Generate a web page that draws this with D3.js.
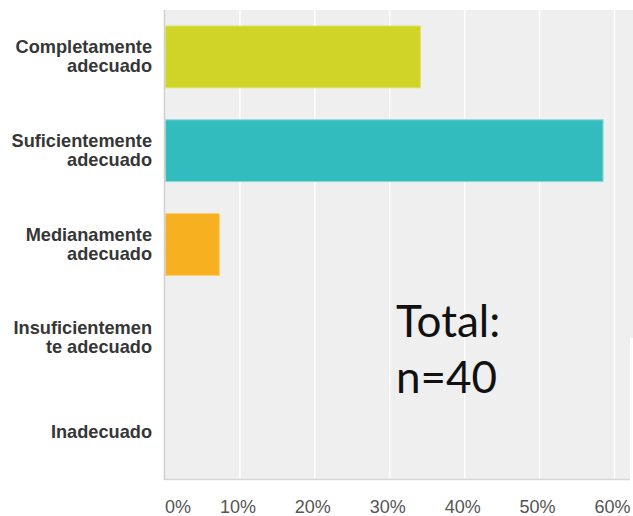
<!DOCTYPE html>
<html>
<head>
<meta charset="utf-8">
<script src="https://cdn.jsdelivr.net/npm/d3@7"></script>
<style>
body{margin:0;background:#fff}
svg{display:block}
.cat{font-family:"Liberation Sans",Arial,sans-serif;font-weight:bold;font-size:18.2px;fill:#363636}
.tick-lbl{font-family:"Liberation Sans",Arial,sans-serif;font-size:18px;fill:#555}
.total{font-family:Lato,"Open Sans",sans-serif;font-size:44px;fill:#111}
</style>
</head>
<body>
<div id="chart"></div>
<script>
// data
const categories=["Completamente adecuado","Suficientemente adecuado","Medianamente adecuado","Insuficientemente adecuado","Inadecuado"];
const labelLines=[["Completamente","adecuado"],["Suficientemente","adecuado"],["Medianamente","adecuado"],["Insuficientemen","te adecuado"],["Inadecuado"]];
const values=[34.15,58.54,7.32,0,0];
const barColors=["#d0d427","#33bcbe","#f6b020","#999","#999"];
const barStrokes=["#dde26a","#8fd8d8","#fbcf78","#ccc","#ccc"];
const xTicks=[0,10,20,30,40,50,60];
const totalLines=["Total:","n=40"];

const W=633,H=516;
const pL=165,pT=10,pR=633,pB=479;

const svg=d3.select("#chart").append("svg").attr("width",W).attr("height",H);

const x=d3.scaleLinear().domain([0,60]).range([pL,614.5]);
const y=d3.scaleBand().domain(categories).range([pT,pB]).paddingInner(0.33).paddingOuter(0.165);

// plot background
svg.append("rect").attr("x",pL).attr("y",pT).attr("width",pR-pL).attr("height",pB-pT).attr("fill","#efefef");

// grid
svg.append("g").selectAll("line").data(xTicks.slice(1)).enter().append("line")
  .attr("x1",d=>x(d)).attr("x2",d=>x(d)).attr("y1",pT).attr("y2",pB)
  .attr("stroke","#fff").attr("stroke-width",1.5);

// bars
svg.append("g").selectAll("rect").data(values).enter().append("rect")
  .attr("x",pL+0.5)
  .attr("y",(d,i)=>y(categories[i])+0.5)
  .attr("width",d=>Math.max(0,x(d)-pL-1))
  .attr("height",y.bandwidth()-1)
  .attr("fill",(d,i)=>barColors[i])
  .attr("stroke",(d,i)=>barStrokes[i])
  .attr("stroke-width",1)
  .attr("display",d=>d>0?null:"none");

// axis lines
svg.append("line").attr("x1",pL-0.5).attr("x2",pL-0.5).attr("y1",pT).attr("y2",pB+1)
  .attr("stroke","#cfcfcf").attr("stroke-width",1.5);
svg.append("line").attr("x1",pL).attr("x2",630).attr("y1",pB+0.5).attr("y2",pB+0.5)
  .attr("stroke","#d6d6d6").attr("stroke-width",1.5);

// small cut at right edge of the reference
svg.append("rect").attr("x",630).attr("y",338).attr("width",3).attr("height",pB-338+2).attr("fill","#fff");

// category labels
const lab=svg.append("g").selectAll("text").data(labelLines).enter().append("text")
  .attr("class","cat").attr("text-anchor","end");
lab.each(function(lines,i){
  const cy=y(categories[i])+y.bandwidth()/2;
  const lh=19;
  const y0=cy+5.5-(lines.length-1)*lh/2;
  d3.select(this).selectAll("tspan").data(lines).enter().append("tspan")
    .attr("x",152).attr("y",(d,k)=>y0+k*lh).text(d=>d);
});

// x tick labels
svg.append("g").selectAll("text").data(xTicks).enter().append("text")
  .attr("class","tick-lbl")
  .attr("x",d=>d===0?x(d):x(d)-2)
  .attr("y",513)
  .attr("text-anchor",d=>d===0?"start":"middle")
  .text(d=>d+"%");

// total annotation
svg.append("g").selectAll("text").data(totalLines).enter().append("text")
  .attr("class","total").attr("x",396).attr("y",(d,i)=>337+i*56).text(d=>d);
</script>
</body>
</html>
